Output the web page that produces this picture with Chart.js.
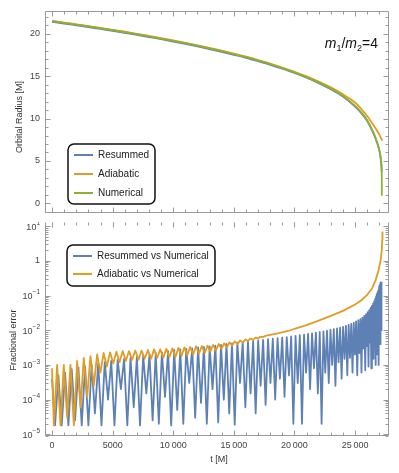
<!DOCTYPE html>
<html>
<head>
<meta charset="utf-8">
<script src="https://cdn.jsdelivr.net/npm/chart.js@4.4.1/dist/chart.umd.min.js"></script>
<style>
html, body { margin: 0; padding: 0; background: #fff; }
#wrap { position: relative; width: 399px; height: 473px; }
canvas { position: absolute; left: 0; }
</style>
</head>
<body>
<div id="wrap">
  <canvas id="top" width="399" height="223" style="top:0"></canvas>
  <canvas id="bot" width="399" height="251" style="top:222px"></canvas>
</div>
<script>
// orbital radius
const R_T = [0, 1000, 2000, 3000, 4000, 5000, 6000, 7000, 8000, 9000, 10000, 11000, 12000, 13000, 14000, 15000, 16000, 17000, 18000, 19000, 20000, 21000, 22000, 23000, 24000, 25000, 25500, 26000, 26500, 26800, 27000, 27100, 27150, 27200, 27210];
const R_NUM = [21.5, 21.30, 21.09, 20.88, 20.66, 20.44, 20.21, 19.97, 19.71, 19.45, 19.18, 18.90, 18.60, 18.29, 17.96, 17.61, 17.25, 16.85, 16.43, 15.96, 15.46, 14.90, 14.27, 13.54, 12.68, 11.50, 10.75, 9.80, 8.40, 7.30, 6.30, 5.50, 4.90, 3.80, 0.90];
const R_RES_T = [0, 1000, 2000, 3000, 4000, 5000, 6000, 7000, 8000, 9000, 10000, 11000, 12000, 13000, 14000, 15000, 16000, 17000, 18000, 19000, 20000, 21000, 22000, 23000, 24000, 25000, 25500, 26000, 26500, 26800, 27000, 27100, 27150, 27200];
const R_RES = [21.42, 21.22, 21.01, 20.80, 20.58, 20.36, 20.13, 19.89, 19.63, 19.37, 19.10, 18.82, 18.52, 18.21, 17.88, 17.53, 17.17, 16.77, 16.35, 15.88, 15.38, 14.82, 14.19, 13.46, 12.60, 11.42, 10.67, 9.72, 8.32, 7.22, 6.24, 5.44, 4.84, 3.70];
const R_ADI_T = [0, 1000, 2000, 3000, 4000, 5000, 6000, 7000, 8000, 9000, 10000, 11000, 12000, 13000, 14000, 15000, 16000, 17000, 18000, 19000, 20000, 21000, 22000, 23000, 24000, 25000, 25500, 26000, 26500, 26800, 27000, 27250];
const R_ADI = [21.54, 21.34, 21.13, 20.92, 20.70, 20.48, 20.25, 20.01, 19.75, 19.49, 19.22, 18.94, 18.65, 18.34, 18.01, 17.66, 17.30, 16.91, 16.49, 16.03, 15.53, 14.98, 14.37, 13.68, 12.86, 11.90, 11.15, 10.30, 9.25, 8.60, 8.10, 7.40];

// fractional error (peaks and dips)
const ERR_RES_T = [0, 250, 525, 800, 1075, 1350, 1625, 1900, 2175, 2450, 2725, 3000, 3270, 3540, 3810, 4080, 4350, 4620, 4885, 5150,
  5415, 5680, 5945, 6210, 6475, 6740, 7000, 7260, 7520, 7780, 8040, 8300, 8555, 8810, 9065, 9320, 9575, 9830, 10080, 10330,
  10580, 10830, 11075, 11320, 11565, 11810, 12050, 12290, 12530, 12770, 13005, 13240, 13475, 13710, 13940, 14170, 14395, 14620, 14845, 15070,
  15290, 15510, 15730, 15950, 16165, 16380, 16590, 16800, 17005, 17210, 17415, 17620, 17820, 18020, 18215, 18410, 18605, 18800, 18990, 19180,
  19365, 19550, 19730, 19910, 20090, 20270, 20445, 20620, 20790, 20960, 21125, 21290, 21450, 21610, 21770, 21930, 22085, 22240, 22390, 22540,
  22685, 22830, 22970, 23110, 23245, 23380, 23510, 23640, 23765, 23890, 24010, 24130, 24245, 24360, 24470, 24580, 24685, 24790, 24890, 24990,
  25085, 25180, 25270, 25360, 25445, 25530, 25610, 25690, 25765, 25840, 25910, 25980, 26045, 26110, 26170, 26230, 26285, 26340, 26390, 26440,
  26485, 26530, 26575, 26620, 26660, 26700, 26735, 26770, 26805, 26840, 26870, 26900, 26930, 26960, 26985, 27010, 27035, 27060, 27080, 27100,
  27120, 27140, 27160, 27180, 27200];
const ERR_RES = [4e-4, 1.8e-5, 5e-4, 1.8e-5, 6e-4, 1.8e-5, 7.5e-4, 2.5e-5, 8.5e-4, 1.8e-5, 9e-4, 1.8e-5, 1e-3, 4e-5, 1.1e-3, 1.8e-5, 1.2e-3, 1e-4, 1.3e-3, 1.8e-5,
  1.4e-3, 2e-4, 1.5e-3, 1.8e-5, 1.6e-3, 6e-5, 1.7e-3, 1.8e-5, 1.9e-3, 1.5e-4, 2e-3, 2.5e-5, 2.2e-3, 2e-5, 2.3e-3, 1.2e-4, 2.5e-3, 1.8e-5, 2.7e-3, 5e-5,
  2.8e-3, 2e-5, 2.9e-3, 3e-4, 3e-3, 3e-5, 3.2e-3, 8e-5, 3.3e-3, 2e-5, 3.4e-3, 2e-4, 3.6e-3, 2.2e-5, 3.8e-3, 1e-4, 4e-3, 4e-5, 4.2e-3, 1.9e-5,
  4.4e-3, 3e-4, 4.5e-3, 6e-5, 4.7e-3, 1.5e-4, 4.9e-3, 4e-5, 5.1e-3, 2.5e-4, 5.3e-3, 7e-5, 5.5e-3, 3e-4, 5.7e-3, 1e-4, 5.9e-3, 4e-4, 6.1e-3, 1.2e-4,
  6.3e-3, 5e-4, 6.6e-3, 2e-5, 6.9e-3, 3e-4, 7.2e-3, 2e-5, 7.5e-3, 6e-4, 7.8e-3, 2e-4, 8.1e-3, 8e-4, 8.5e-3, 1.5e-4, 8.9e-3, 2e-5, 9.3e-3, 6e-4,
  9.7e-3, 3e-4, 1.02e-2, 1e-3, 1.07e-2, 2.5e-4, 1.12e-2, 1.2e-3, 1.18e-2, 4e-4, 1.25e-2, 1.5e-3, 1.33e-2, 5e-4, 1.42e-2, 1.6e-3, 1.52e-2, 6e-4, 1.65e-2, 2e-3,
  1.8e-2, 5e-4, 1.95e-2, 2.2e-3, 2.1e-2, 6e-4, 2.3e-2, 3e-3, 2.6e-2, 7e-4, 2.9e-2, 3.5e-3, 3.3e-2, 9e-4, 3.8e-2, 4.5e-3, 4.4e-2, 8e-4, 5e-2, 5e-3,
  5.8e-2, 1.5e-3, 6.8e-2, 7e-3, 8e-2, 1e-3, 9.5e-2, 1e-2, 0.11, 2e-3, 0.13, 1.5e-2, 0.15, 1e-3, 0.18, 2e-2, 0.2, 4e-3, 0.22, 3e-2,
  0.24, 1e-2, 0.25, 5e-2, 0.25];
const ERR_ADI_T = [0, 150, 420, 700, 970, 1250, 1520, 1800, 2070, 2350, 2620, 2900, 3170, 3450, 3720, 3990, 4260, 4520, 4790, 5050,
  5310, 5570, 5830, 6090, 6350, 6610, 6870, 7130, 7390, 7650, 7910, 8170, 8420, 8680, 8930, 9180, 9430, 9680, 9930, 10180,
  10430, 10680, 10920, 11160, 11400, 11640, 11880, 12120, 12360, 12600, 12830, 13060, 13290, 13520, 13750, 13980, 14200, 14420, 14640, 14860,
  15080, 15300, 15520, 15740, 15950, 16160, 16370, 16580, 16790, 17000, 17200, 17400, 17600, 18500, 19500, 20000, 21000, 22000, 23000, 24000,
  25000, 25500, 26000, 26400, 26700, 26950, 27100, 27200, 27240, 27260];
const ERR_ADI = [8e-4, 1.8e-5, 1e-3, 1.8e-5, 1e-3, 3e-5, 1e-3, 1.8e-5, 1.3e-3, 6e-5, 1.6e-3, 1.2e-4, 1.8e-3, 2.5e-4, 2e-3, 6e-4, 2.2e-3, 9e-4, 2.3e-3, 1.1e-3,
  2.4e-3, 1.2e-3, 2.5e-3, 1.3e-3, 2.5e-3, 1.4e-3, 2.6e-3, 1.4e-3, 2.6e-3, 1.5e-3, 2.7e-3, 1.5e-3, 2.8e-3, 1.6e-3, 2.8e-3, 1.6e-3, 2.9e-3, 1.7e-3, 3e-3, 1.7e-3,
  3.1e-3, 1.8e-3, 3.2e-3, 1.9e-3, 3.3e-3, 2e-3, 3.4e-3, 2.1e-3, 3.5e-3, 2.2e-3, 3.6e-3, 2.4e-3, 3.8e-3, 2.6e-3, 4e-3, 2.9e-3, 4.2e-3, 3.2e-3, 4.5e-3, 3.6e-3,
  4.8e-3, 4e-3, 5.1e-3, 4.4e-3, 5.4e-3, 4.9e-3, 5.8e-3, 5.3e-3, 6.1e-3, 5.8e-3, 6.5e-3, 6.3e-3, 6.9e-3, 8e-3, 9.5e-3, 1.1e-2, 1.4e-2, 1.9e-2, 2.6e-2, 3.6e-2,
  5.5e-2, 7.2e-2, 0.105, 0.16, 0.28, 0.55, 1.0, 2.0, 4.0, 7.0];

// axes
const X_MIN = -580, X_MAX = 27800;
const X_TICKS = [0, 5000, 10000, 15000, 20000, 25000];
const R_TICKS = [0, 5, 10, 15, 20];
const LOG_EXP = [-5, -4, -3, -2, -1, 0, 1];

const BLUE = '#5e81b5', ORANGE = '#e19c24', GREEN = '#8fb032';
const FAM = '"Liberation Sans", Arial, sans-serif';
const FRAME = '#9a9a9a';

const xy = (ts, vs) => ts.map((t, i) => ({ x: t, y: vs[i] }));

function rng(a, b, s) { const o = []; for (let v = a; v <= b + 1e-9; v += s) o.push(v); return o; }

// frame with inward ticks, mathematica style
function frame(chart, xMaj, xMin, yMaj, yMin, drawTop) {
  const { ctx, chartArea: a, scales: { x, y } } = chart;
  const L = Math.round(a.left) + 0.5, R = Math.round(a.right) - 0.5;
  const T = Math.round(a.top) + 0.5, B = Math.round(a.bottom) - 0.5;
  ctx.save();
  ctx.strokeStyle = FRAME; ctx.lineWidth = 1;
  ctx.beginPath();
  ctx.moveTo(L, T); ctx.lineTo(L, B); ctx.lineTo(R, B); ctx.lineTo(R, T);
  if (drawTop) ctx.lineTo(L, T);
  const xt = (v, len) => {
    const p = Math.round(x.getPixelForValue(v)) + 0.5;
    ctx.moveTo(p, B); ctx.lineTo(p, B - len);
    ctx.moveTo(p, T); ctx.lineTo(p, T + len);
  };
  const yt = (v, len) => {
    const p = Math.round(y.getPixelForValue(v)) + 0.5;
    if (p < T || p > B + 1) return;
    ctx.moveTo(L, p); ctx.lineTo(L + len, p);
    ctx.moveTo(R, p); ctx.lineTo(R - len, p);
  };
  xMaj.forEach(v => xt(v, 5)); xMin.forEach(v => xt(v, 3));
  yMaj.forEach(v => yt(v, 5)); yMin.forEach(v => yt(v, 3));
  ctx.stroke();
  ctx.restore();
}

function legend(chart, bx, by, bw, bh, rowY) {
  const ctx = chart.ctx;
  ctx.save();
  const r = 6;
  ctx.beginPath();
  ctx.moveTo(bx + r, by); ctx.arcTo(bx + bw, by, bx + bw, by + bh, r);
  ctx.arcTo(bx + bw, by + bh, bx, by + bh, r); ctx.arcTo(bx, by + bh, bx, by, r);
  ctx.arcTo(bx, by, bx + bw, by, r); ctx.closePath();
  ctx.fillStyle = '#fff'; ctx.fill();
  ctx.strokeStyle = '#111'; ctx.lineWidth = 1.5; ctx.stroke();
  ctx.font = '10px ' + FAM; ctx.textBaseline = 'middle'; ctx.fillStyle = '#222';
  chart.data.datasets.forEach((d, i) => {
    const yy = rowY[i];
    ctx.strokeStyle = d.borderColor; ctx.lineWidth = 2;
    ctx.beginPath(); ctx.moveTo(bx + 6, yy); ctx.lineTo(bx + 25, yy); ctx.stroke();
    ctx.fillText(d.label, bx + 30, yy + 0.5);
  });
  ctx.restore();
}

function vTitle(ctx, text, cx, cy) {
  ctx.save();
  ctx.translate(cx, cy); ctx.rotate(-Math.PI / 2);
  ctx.font = '9px ' + FAM; ctx.fillStyle = '#333';
  ctx.textAlign = 'center'; ctx.textBaseline = 'middle';
  ctx.fillText(text, 0, 0);
  ctx.restore();
}

const topDeco = {
  id: 'topDeco',
  afterDraw(chart) {
    const ctx = chart.ctx;
    frame(chart, X_TICKS, rng(0, 27000, 1000), R_TICKS, rng(-1, 22, 1), true);
    legend(chart, 68, 144, 87, 60, [155, 174, 193]);
    vTitle(ctx, 'Orbital Radius [M]', 20, 117);
    // m1/m2=4
    const parts = [
      ['m', 'italic 14px ' + FAM, 0], ['1', '9px ' + FAM, 3], ['/', '14px ' + FAM, 0],
      ['m', 'italic 14px ' + FAM, 0], ['2', '9px ' + FAM, 3], ['=4', '14px ' + FAM, 0]
    ];
    ctx.save();
    ctx.fillStyle = '#111'; ctx.textBaseline = 'alphabetic';
    let w = 0;
    parts.forEach(p => { ctx.font = p[1]; w += ctx.measureText(p[0]).width; });
    let px = 378 - w;
    parts.forEach(p => { ctx.font = p[1]; ctx.fillText(p[0], px, 48 + p[2]); px += ctx.measureText(p[0]).width; });
    ctx.restore();
  }
};

const botDeco = {
  id: 'botDeco',
  afterDraw(chart) {
    const ctx = chart.ctx, y = chart.scales.y;
    const minor = [];
    for (let k = -6; k <= 1; k++) for (let m = 2; m <= 9; m++) minor.push(m * Math.pow(10, k));
    frame(chart, X_TICKS, rng(0, 27000, 1000), LOG_EXP.map(k => Math.pow(10, k)), minor, false);
    // log tick labels with real superscripts
    ctx.save();
    ctx.fillStyle = '#444'; ctx.textBaseline = 'middle'; ctx.textAlign = 'left';
    LOG_EXP.forEach(k => {
      const py = y.getPixelForValue(Math.pow(10, k));
      const right = 40;
      if (k === 0) {
        ctx.font = '9px ' + FAM;
        ctx.fillText('1', right - ctx.measureText('1').width, py);
        return;
      }
      const ex = k < 0 ? '\u2212' + (-k) : String(k);
      ctx.font = '6.5px ' + FAM;
      const we = ctx.measureText(ex).width;
      ctx.font = '9px ' + FAM;
      const wb = ctx.measureText('10').width;
      ctx.fillText('10', right - we - wb, py + 1);
      ctx.font = '6.5px ' + FAM;
      ctx.fillText(ex, right - we, py - 3);
    });
    ctx.restore();
    legend(chart, 67, 23, 148, 41, [34, 52]);
    vTitle(ctx, 'Fractional error', 14, 118);
    ctx.save();
    ctx.font = '9px ' + FAM; ctx.fillStyle = '#333';
    ctx.textAlign = 'center'; ctx.textBaseline = 'middle';
    ctx.fillText('t [M]', 219, 238);
    ctx.restore();
  }
};

const common = {
  responsive: false, animation: false, events: [],
  elements: { point: { radius: 0 } },
  plugins: { legend: { display: false }, tooltip: { enabled: false } }
};

new Chart(document.getElementById('top'), {
  type: 'line',
  data: {
    datasets: [
      { label: 'Resummed', data: xy(R_RES_T, R_RES), borderColor: BLUE, borderWidth: 1.8, cubicInterpolationMode: 'monotone', order: 2 },
      { label: 'Adiabatic', data: xy(R_ADI_T, R_ADI), borderColor: ORANGE, borderWidth: 1.8, cubicInterpolationMode: 'monotone', order: 1 },
      { label: 'Numerical', data: xy(R_T, R_NUM), borderColor: GREEN, borderWidth: 1.8, cubicInterpolationMode: 'monotone', order: 0 },
    ]
  },
  options: {
    ...common,
    layout: { padding: { top: 11, right: 10, bottom: 1, left: 0 } },
    scales: {
      x: { type: 'linear', display: false, min: X_MIN, max: X_MAX },
      y: {
        min: -1.1, max: 22.7,
        afterFit: s => { s.width = 45; },
        afterBuildTicks: s => { s.ticks = R_TICKS.map(v => ({ value: v })); },
        grid: { display: false, drawTicks: false }, border: { display: false },
        ticks: { font: { family: FAM, size: 9 }, color: '#444', padding: 5 }
      }
    }
  },
  plugins: [topDeco]
});

new Chart(document.getElementById('bot'), {
  type: 'line',
  data: {
    datasets: [
      { label: 'Resummed vs Numerical', data: xy(ERR_RES_T, ERR_RES), borderColor: BLUE, borderWidth: 1.8, borderJoinStyle: 'round', order: 1 },
      { label: 'Adiabatic vs Numerical', data: xy(ERR_ADI_T, ERR_ADI), borderColor: ORANGE, borderWidth: 1.8, borderJoinStyle: 'round', order: 0 },
    ]
  },
  options: {
    ...common,
    layout: { padding: { top: 0, right: 10, bottom: 0, left: 0 } },
    scales: {
      x: {
        type: 'linear', min: X_MIN, max: X_MAX,
        afterFit: s => { s.height = 37; },
        afterBuildTicks: s => { s.ticks = X_TICKS.map(v => ({ value: v })); },
        grid: { display: false, drawTicks: false }, border: { display: false },
        ticks: {
          font: { family: FAM, size: 9 }, color: '#444', padding: 4, maxRotation: 0, autoSkip: false,
          callback: v => { const s = String(v); return s.length > 4 ? s.slice(0, -3) + '\u2009' + s.slice(-3) : s; }
        }
      },
      y: {
        type: 'logarithmic', min: Math.pow(10, -5.05), max: Math.pow(10, 1.12),
        afterFit: s => { s.width = 45; },
        grid: { display: false, drawTicks: false }, border: { display: false },
        ticks: { display: false }
      }
    }
  },
  plugins: [botDeco]
});
</script>
</body>
</html>
